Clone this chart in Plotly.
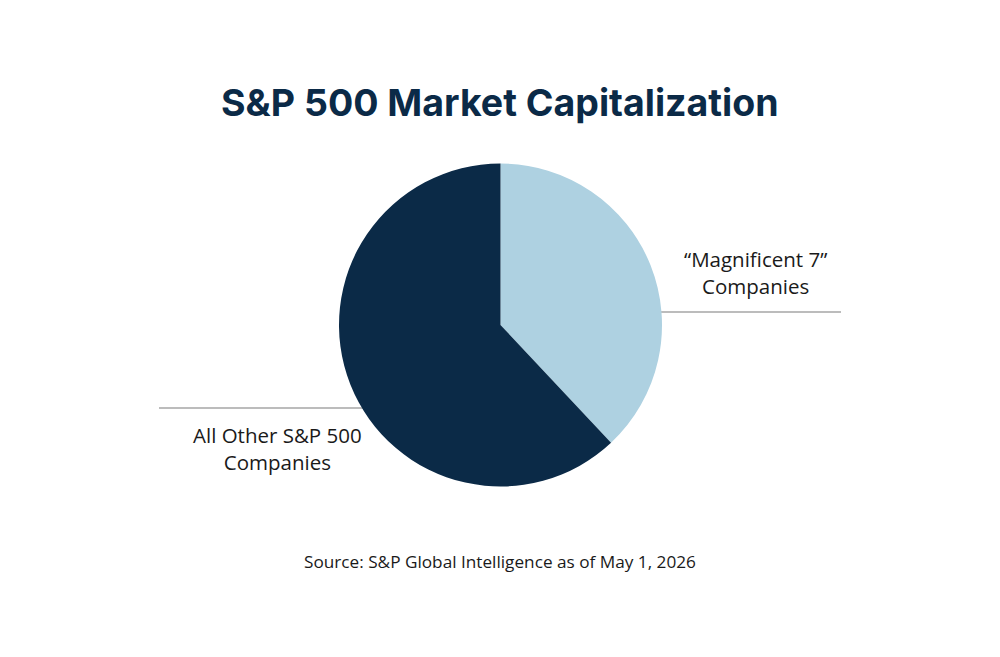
import plotly.graph_objects as go

labels = ["“Magnificent 7” Companies", "All Other S&P 500 Companies"]
values = [38, 62]
colors = ["#aed1e1", "#0b2a47"]

title_text = "S&P 500 Market Capitalization"
source_text = "Source: S&P Global Intelligence as of May 1, 2026"
label_right = "“Magnificent 7”<br>Companies"
label_left = "All Other S&P 500<br>Companies"

W, H = 1000, 657

def px(x):
    return x / W

def py(y):
    return 1 - y / H

fig = go.Figure(go.Pie(
    labels=labels,
    values=values,
    marker=dict(colors=colors, line=dict(width=0)),
    sort=False,
    direction="clockwise",
    rotation=0,
    textinfo="none",
    hoverinfo="label+percent",
    domain=dict(x=[px(339), px(662)], y=[py(487), py(163)]),
    showlegend=False,
))

line_color = "#a6a6a6"
fig.add_shape(type="line", xref="paper", yref="paper",
              x0=px(640), x1=px(841), y0=py(312), y1=py(312),
              line=dict(color=line_color, width=1.6), layer="below")
fig.add_shape(type="line", xref="paper", yref="paper",
              x0=px(159), x1=px(370), y0=py(408), y1=py(408),
              line=dict(color=line_color, width=1.6), layer="below")

text_font = dict(family="Open Sans", size=20.5, color="#1a1a1a")
fig.add_annotation(text=label_right, xref="paper", yref="paper",
                   x=px(755), y=py(272), showarrow=False, font=text_font,
                   align="center", xanchor="center", yanchor="middle")
fig.add_annotation(text=label_left, xref="paper", yref="paper",
                   x=px(277), y=py(448), showarrow=False, font=text_font,
                   align="center", xanchor="center", yanchor="middle")
fig.add_annotation(text=title_text, xref="paper", yref="paper",
                   x=0.5, y=py(103), showarrow=False,
                   font=dict(family="Inter", size=37.5, color="#0b2a47", weight=700),
                   xanchor="center", yanchor="middle")
fig.add_annotation(text=source_text, xref="paper", yref="paper",
                   x=0.5, y=py(561), showarrow=False,
                   font=dict(family="Open Sans", size=17.2, color="#1a1a1a"),
                   xanchor="center", yanchor="middle")

fig.update_layout(width=W, height=H, margin=dict(l=0, r=0, t=0, b=0),
                  paper_bgcolor="white", plot_bgcolor="white")

fig.write_html("out.html", config={"displayModeBar": False},
               post_script="document.body.style.margin='0';document.body.style.overflow='hidden';")
